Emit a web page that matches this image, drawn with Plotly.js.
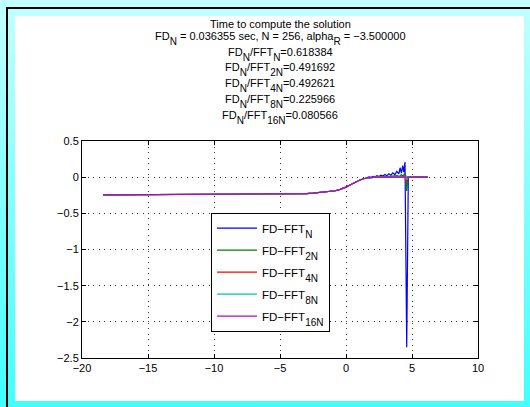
<!DOCTYPE html>
<html>
<head>
<meta charset="utf-8">
<script src="https://cdn.plot.ly/plotly-3.0.1.min.js"></script>
<style>
html,body{margin:0;padding:0;width:530px;height:407px;overflow:hidden;}
body{background:linear-gradient(to bottom,#c4ffff,#40ffff);position:relative;}
#frame{position:absolute;left:6px;top:7px;right:0;bottom:0;border-left:2px solid #000;border-top:2px solid #000;}
#panel{position:absolute;left:15px;top:16px;width:509px;height:385px;background:#fff;}
#chart{position:absolute;left:0;top:0;width:530px;height:407px;}
</style>
</head>
<body>
<div id="frame"></div>
<div id="panel"></div>
<div id="chart"></div>
<script>
// Shared smooth part of all solutions
const xSmooth = [-18.4, -15, -12, -9, -6, -5, -4, -3.5, -3, -2.5, -2, -1.6, -1.2, -0.8, -0.45, -0.2, 0, 0.3, 0.68, 1.06, 1.4];
const ySmooth = [-0.246, -0.244, -0.242, -0.240, -0.237, -0.235, -0.234, -0.232, -0.228, -0.222, -0.214, -0.207, -0.200, -0.188, -0.168, -0.152, -0.138, -0.108, -0.070, -0.039, -0.018];

// Tails near the right end, per series
const xTailN = [1.6, 1.75, 1.9, 2.05, 2.2, 2.35, 2.5, 2.65, 2.8, 2.95, 3.1, 3.25, 3.4, 3.55, 3.7, 3.85, 4.0, 4.1, 4.2, 4.3, 4.38, 4.47, 4.6, 4.72, 5.0, 6.2];
const yTailN = [-0.008, 0.004, -0.002, 0.012, 0.004, 0.02, 0.01, 0.028, 0.015, 0.038, 0.02, 0.048, 0.028, 0.06, 0.034, 0.08, 0.045, 0.13, 0.055, 0.16, 0.07, 0.21, -2.35, 0, 0, 0];
const xTail2N = [1.8, 2.2, 2.8, 3.3, 3.7, 3.9, 4.05, 4.2, 4.32, 4.44, 4.52, 4.6, 4.7, 5.0, 6.2];
const yTail2N = [-0.005, 0, 0.003, 0.006, 0.012, 0.02, 0.01, 0.035, 0.015, 0.05, 0.03, -0.19, 0, 0, 0];
const xTail4N = [1.8, 2.2, 3, 4, 4.3, 4.45, 4.6, 4.7, 5.0, 6.2];
const yTail4N = [-0.005, 0, 0, 0.003, 0.008, 0.015, -0.07, 0, 0, 0];
const xTail8N = [1.8, 2.2, 3, 4, 4.45, 4.6, 4.7, 5.0, 6.2];
const yTail8N = [-0.005, 0, 0, 0, 0.005, -0.03, 0, 0, 0];
const xTail16N = [1.8, 2.2, 3, 4, 5, 6.2];
const yTail16N = [-0.005, 0, 0, 0, 0, 0];

const S = s => "<sub><span style='font-size:10px;baseline-shift:-3px'>" + s + "</span></sub>";

const seriesNames = ["FD−FFT" + S("N"), "FD−FFT" + S("2N"), "FD−FFT" + S("4N"), "FD−FFT" + S("8N"), "FD−FFT" + S("16N")];
const seriesColors = ["#0000ff", "#008000", "#ff0000", "#00bfbf", "#bf00bf"];

const titleLines = [
  "Time to compute the solution",
  "FD" + S("N") + " = 0.036355 sec, N = 256, alpha" + S("R") + " = −3.500000",
  "FD" + S("N") + "/FFT" + S("N") + "=0.618384",
  "FD" + S("N") + "/FFT" + S("2N") + "=0.491692",
  "FD" + S("N") + "/FFT" + S("4N") + "=0.492621",
  "FD" + S("N") + "/FFT" + S("8N") + "=0.225966",
  "FD" + S("N") + "/FFT" + S("16N") + "=0.080566"
];
const titleY = [1.538, 1.474, 1.400, 1.328, 1.256, 1.184, 1.110];

const xTicks = [-20, -15, -10, -5, 0, 5, 10];
const yTicks = [-2.5, -2, -1.5, -1, -0.5, 0, 0.5];

const tails = [[xTailN, yTailN], [xTail2N, yTail2N], [xTail4N, yTail4N], [xTail8N, yTail8N], [xTail16N, yTail16N]];
const FONT = "Liberation Sans, Arial, Helvetica, sans-serif";

const traces = tails.map((t, i) => ({
  type: "scatter", mode: "lines",
  x: xSmooth.concat(t[0]), y: ySmooth.concat(t[1]),
  name: seriesNames[i], legendgroup: "g" + i,
  line: {color: seriesColors[i], width: 1.2}
}));

const annotations = titleLines.map((txt, i) => ({
  text: txt, xref: "paper", yref: "paper", x: 0.5, y: titleY[i],
  xanchor: "center", yanchor: "middle", showarrow: false, borderpad: 0,
  font: {family: FONT, size: 11, color: "#000"}
}));

const axisCommon = {
  showline: true, linecolor: "#000", linewidth: 1, mirror: "ticks",
  ticks: "inside", ticklen: 4, tickcolor: "#000", tickwidth: 1,
  showgrid: true, gridcolor: "#333", gridwidth: 1, griddash: "1px,4.5px",
  zeroline: false, tickfont: {family: FONT, size: 11, color: "#000"}
};

const layout = {
  width: 530, height: 407,
  margin: {l: 82, r: 52, t: 141, b: 49, pad: 0},
  paper_bgcolor: "rgba(0,0,0,0)", plot_bgcolor: "#fff",
  showlegend: true,
  legend: {
    x: 0.3258, y: 0.670, xanchor: "left", yanchor: "top",
    bgcolor: "#fff", bordercolor: "#000", borderwidth: 1,
    font: {family: FONT, size: 11.5, color: "#000"},
    tracegroupgap: 3, itemwidth: 40
  },
  xaxis: Object.assign({}, axisCommon, {range: [-20, 10], tickvals: xTicks, ticktext: xTicks.map(v => v < 0 ? "−" + (-v) : String(v))}),
  yaxis: Object.assign({}, axisCommon, {range: [-2.5, 0.5], tickvals: yTicks, ticktext: yTicks.map(v => v < 0 ? "−" + (-v) : String(v))}),
  annotations: annotations
};

Plotly.newPlot("chart", traces, layout, {staticPlot: true, displayModeBar: false});
</script>
</body>
</html>
